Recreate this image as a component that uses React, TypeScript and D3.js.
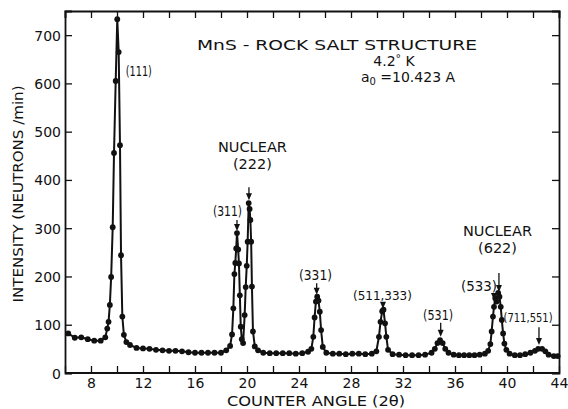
import React, { useEffect, useRef } from 'react';
import * as d3 from 'd3';

// counter angle (2θ, degrees) and measured intensity (neutrons/min)
const angle = [
  6.25, 6.75, 7.25, 7.75, 8.25, 8.75, 9.1, 9.25, 9.35, 9.45, 9.55, 9.67, 9.77, 9.9, 10.02, 10.13,
  10.23, 10.31, 10.41, 10.53, 10.72, 11.0, 11.5, 12.0, 12.5, 13.0, 13.5, 14.0, 14.5, 15.0, 15.5,
  16.0, 16.5, 17.0, 17.5, 18.0, 18.4, 18.7, 18.85, 18.95, 19.03, 19.1, 19.17, 19.23, 19.32, 19.38,
  19.45, 19.52, 19.6, 19.7, 19.82, 19.9, 19.98, 20.05, 20.13, 20.2, 20.26, 20.32, 20.38, 20.46,
  20.6, 20.85, 21.25, 21.75, 22.25, 22.75, 23.25, 23.75, 24.25, 24.7, 24.95, 25.1, 25.2, 25.3,
  25.4, 25.5, 25.6, 25.7, 25.83, 26.1, 26.6, 27.1, 27.6, 28.1, 28.6, 29.1, 29.6, 29.95, 30.15,
  30.27, 30.4, 30.5, 30.62, 30.72, 30.85, 31.2, 31.7, 32.2, 32.7, 33.2, 33.7, 34.2, 34.45, 34.65,
  34.85, 35.05, 35.25, 35.5, 35.9, 36.3, 36.7, 37.1, 37.5, 37.9, 38.3, 38.55, 38.72, 38.82, 38.92,
  39.0, 39.1, 39.2, 39.32, 39.42, 39.52, 39.6, 39.7, 39.8, 39.95, 40.2, 40.6, 41.0, 41.4, 41.8,
  42.15, 42.4, 42.7, 42.95, 43.2, 43.6, 43.9
];
const counts = [
  82, 73, 74, 70, 67, 67, 74, 92, 106, 141, 199, 302, 456, 605, 733, 665,
  472, 244, 117, 79, 64, 58, 52, 51, 50, 48, 47, 46, 46, 45, 43,
  42, 42, 42, 42, 42, 47, 56, 80, 134, 205, 228, 258, 290, 256, 227,
  161, 96, 70, 62, 120, 178, 222, 272, 352, 340, 317, 272, 179, 86,
  55, 47, 42, 41, 41, 41, 41, 40, 41, 44, 50, 75, 115, 148,
  158, 150, 127, 89, 54, 42, 40, 40, 39, 40, 40, 39, 40, 45, 75,
  106, 128, 131, 103, 75, 48, 39, 38, 37, 37, 37, 38, 42, 50, 62,
  68, 62, 50, 42, 38, 37, 37, 37, 37, 38, 40, 46, 60, 86, 117,
  137, 155, 148, 166, 158, 137, 110, 82, 61, 48, 40, 37, 37, 39, 42,
  46, 50, 50, 45, 38, 35, 35
];

const xTickValues = [6, 8, 10, 12, 14, 16, 18, 20, 22, 24, 26, 28, 30, 32, 34, 36, 38, 40, 42, 44];
const xLabelValues = [8, 12, 16, 20, 24, 28, 32, 36, 40, 44];
const yTickValues = [0, 100, 200, 300, 400, 500, 600, 700];

// reflection labels: text lines, label centre (angle, intensity), arrow (angle, from, to)
const peakNames = [['(111)'], ['NUCLEAR', '(222)'], ['(311)'], ['(331)'], ['(511,333)'], ['(531)'], ['NUCLEAR', '(622)'], ['(533)'], ['(711,551)']];
const peakLabelX = [11.68, 20.42, 18.5, 25.27, 30.42, 34.7, 39.27, 37.85, 41.62];
const peakLabelY = [625, 433, 335, 203, 160, 120, 259, 180, 113];
const arrowX = [null, 20.15, 19.23, 25.36, 30.46, 34.9, 39.38, 39.0, 42.46];
const arrowFrom = [null, 385, 317, 186, 145, 104, 207, 166, 95];
const arrowTo = [null, 358, 294, 162, 133, 75, 168, 151, 58];

const FONT = 'DejaVu Sans, sans-serif';
// lettering widths as drawn in the original figure
const labelWidth: Record<string, number> = {
  '(111)': 26, 'NUCLEAR': 69, '(222)': 39, '(311)': 29, '(331)': 33,
  '(511,333)': 59, '(531)': 30, '(622)': 39, '(533)': 36, '(711,551)': 49
};

export default function App() {
  const ref = useRef<SVGSVGElement>(null);

  useEffect(() => {
    const width = 568, height = 409;
    const margin = { top: 11, right: 9, bottom: 36, left: 65 };
    const svg = d3.select(ref.current);
    svg.selectAll('*').remove();

    const x = d3.scaleLinear().domain([6, 44]).range([margin.left, width - margin.right]);
    const y = d3.scaleLinear().domain([0, 750]).range([height - margin.bottom, margin.top]);

    svg.append('rect').attr('width', width).attr('height', height).attr('fill', '#fff');

    // axes, ticks pointing inwards
    const bottom = svg.append('g')
      .attr('transform', 'translate(0,' + y(0) + ')')
      .call(d3.axisBottom(x).tickValues(xTickValues).tickSize(-7).tickPadding(5)
        .tickFormat((d: any) => (xLabelValues.includes(+d) ? String(d) : '')));
    svg.append('g')
      .attr('transform', 'translate(0,' + y(750) + ')')
      .call(d3.axisTop(x).tickValues(xTickValues).tickSize(-7).tickFormat(() => ''));
    const left = svg.append('g')
      .attr('transform', 'translate(' + x(6) + ',0)')
      .call(d3.axisLeft(y).tickValues(yTickValues).tickSize(-7).tickPadding(4));
    svg.append('g')
      .attr('transform', 'translate(' + x(44) + ',0)')
      .call(d3.axisRight(y).tickValues(yTickValues).tickSize(-7).tickFormat(() => ''));

    svg.selectAll('.domain').attr('stroke', '#111').attr('stroke-width', 1.8);
    svg.selectAll('.tick line').attr('stroke', '#111').attr('stroke-width', 1.3);
    svg.selectAll('.tick text').attr('font-family', FONT).attr('font-size', 14).attr('fill', '#111');
    left.selectAll('.tick text').attr('dy', '0.36em');
    bottom.select('.domain').attr('d', 'M' + x(6) + ',0H' + x(44));

    // data line and dots
    const pts = angle.map((a, i) => [a, counts[i]] as [number, number]);
    const line = d3.line<[number, number]>().x(d => x(d[0])).y(d => y(d[1]));
    svg.append('path').datum(pts)
      .attr('d', line)
      .attr('fill', 'none')
      .attr('stroke', '#111')
      .attr('stroke-width', 2)
      .attr('stroke-linejoin', 'round');
    svg.append('g').selectAll('circle').data(pts).join('circle')
      .attr('cx', d => x(d[0])).attr('cy', d => y(d[1]))
      .attr('r', 2.9).attr('fill', '#111');

    // reflection labels and arrows
    peakNames.forEach((lines, i) => {
      const cx = x(peakLabelX[i]);
      const cy = y(peakLabelY[i]);
      lines.forEach((t, j) => {
        svg.append('text')
          .attr('x', cx)
          .attr('y', cy - (lines.length - 1 - j) * 17)
          .attr('text-anchor', 'middle')
          .attr('dominant-baseline', 'central')
          .attr('font-family', FONT)
          .attr('font-size', t.includes(',') ? 12 : 14)
          .attr('fill', '#111')
          .attr('textLength', labelWidth[t])
          .attr('lengthAdjust', 'spacingAndGlyphs')
          .text(t);
      });
      const ax = arrowX[i];
      if (ax != null) {
        const px = x(ax), y0 = y(arrowFrom[i] as number), y1 = y(arrowTo[i] as number);
        svg.append('line').attr('x1', px).attr('x2', px).attr('y1', y0).attr('y2', y1 - 5)
          .attr('stroke', '#111').attr('stroke-width', 1.3);
        svg.append('path')
          .attr('d', 'M' + (px - 3) + ',' + (y1 - 7) + 'L' + (px + 3) + ',' + (y1 - 7) + 'L' + px + ',' + y1 + 'Z')
          .attr('fill', '#111');
      }
    });

    // title block
    svg.append('text').attr('x', 337).attr('y', 45).attr('text-anchor', 'middle')
      .attr('dominant-baseline', 'central')
      .attr('font-family', FONT).attr('font-size', 14).attr('fill', '#111')
      .attr('textLength', 280).attr('lengthAdjust', 'spacingAndGlyphs')
      .text('MnS - ROCK SALT STRUCTURE');
    const t2 = svg.append('text').attr('x', 394).attr('y', 61).attr('text-anchor', 'middle')
      .attr('dominant-baseline', 'central')
      .attr('font-family', FONT).attr('font-size', 14).attr('fill', '#111');
    t2.append('tspan').text('4.2');
    t2.append('tspan').text('°').attr('font-size', 11).attr('dy', -3);
    t2.append('tspan').text(' K').attr('dy', 3);
    const t3 = svg.append('text').attr('x', 408).attr('y', 77).attr('text-anchor', 'middle')
      .attr('dominant-baseline', 'central')
      .attr('font-family', FONT).attr('font-size', 14).attr('fill', '#111');
    t3.append('tspan').text('a');
    t3.append('tspan').text('0').attr('font-size', 10).attr('dy', 4);
    t3.append('tspan').text(' =10.423 A').attr('dy', -4);

    // axis titles
    svg.append('text').attr('x', 316).attr('y', 401).attr('text-anchor', 'middle')
      .attr('dominant-baseline', 'central')
      .attr('font-family', FONT).attr('font-size', 14).attr('fill', '#111')
      .attr('textLength', 178).attr('lengthAdjust', 'spacingAndGlyphs')
      .text('COUNTER ANGLE (2θ)');
    svg.append('text')
      .attr('transform', 'translate(18,' + 194 + ') rotate(-90)')
      .attr('text-anchor', 'middle')
      .attr('dominant-baseline', 'central')
      .attr('font-family', FONT).attr('font-size', 14).attr('fill', '#111')
      .attr('textLength', 217).attr('lengthAdjust', 'spacingAndGlyphs')
      .text('INTENSITY (NEUTRONS /min)');
  }, []);

  return (
    <svg ref={ref} width={568} height={409}
      style={{ position: 'absolute', left: 0, top: 0, display: 'block' }} />
  );
}
